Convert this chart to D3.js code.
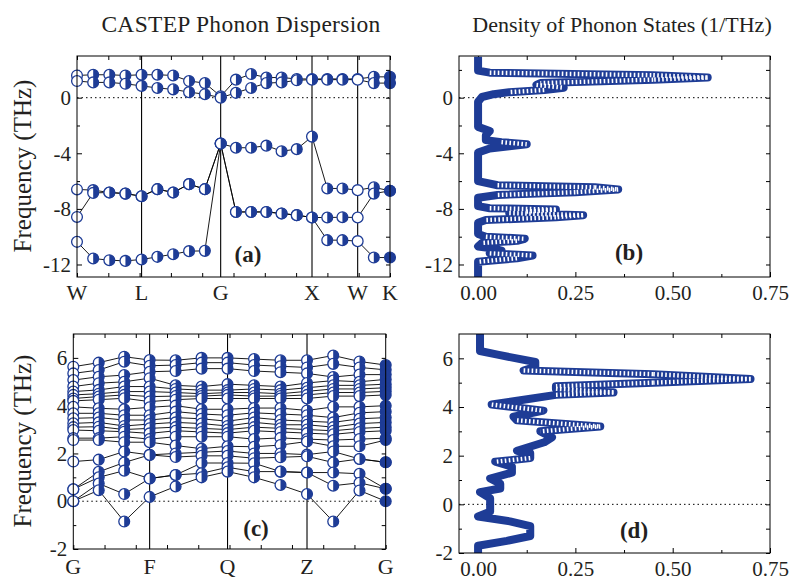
<!DOCTYPE html>
<html>
<head>
<meta charset="utf-8">
<script src="https://cdn.jsdelivr.net/npm/d3@7"></script>
<style>
  body { margin: 0; background: #fff; }
  text { font-family: "Liberation Serif", "Times New Roman", serif; }
</style>
</head>
<body>
<svg id="chart" width="792" height="581"></svg>
<script>
// Phonon dispersion + DOS, two structures

var blue = "#1e3c96";
var ink = "#231f20";

// (a) k-path W-L-G-X-W-K, path length in 2pi/a
var kA = [0, 0.177, 0.354, 0.530, 0.707, 0.880, 1.053, 1.227, 1.400, 1.573,
  1.740, 1.906, 2.073, 2.240, 2.406, 2.573, 2.740, 2.906, 3.073, 3.250, 3.427];
var symA = ["W", "L", "G", "X", "W", "K"];
var symPosA = [0, 0.707, 1.573, 2.573, 3.073, 3.427];
var bandsA = [
  [1.6, 1.65, 1.65, 1.6, 1.65, 1.65, 1.6, 1.2, 1.05, 0.1, 1.3, 1.7, 1.45, 1.45, 1.35, 1.35, 1.35, 1.35, 1.35, 1.5, 1.5],
  [1.2, 1.1, 1.1, 1.0, 0.85, 0.7, 0.6, 0.4, 0.25, 0.0, 0.35, 0.7, 1.05, 1.1, 1.25, 1.3, 1.3, 1.3, 1.3, 1.05, 1.05],
  [-6.6, -6.65, -6.82, -6.9, -7.09, -6.58, -6.82, -6.22, -6.58, -3.3, -3.6, -3.6, -3.45, -3.85, -3.7, -2.8, -6.53, -6.53, -6.65, -6.45, -6.7],
  [-8.58, -6.85, -6.82, -6.9, -7.09, -6.58, -6.82, -6.22, -6.58, -3.3, -8.22, -8.22, -8.22, -8.33, -8.45, -8.62, -8.62, -8.6, -8.62, -6.9, -6.7],
  [-10.37, -11.57, -11.69, -11.74, -11.64, -11.45, -11.26, -11.04, -11.02, -3.3, -8.22, -8.22, -8.22, -8.33, -8.45, -8.62, -10.25, -10.25, -10.32, -11.5, -11.5]
];

// (c) k-path G-F-Q-Z-G
var kC = [0, 0.323, 0.647, 0.97, 1.30, 1.63, 1.96, 2.297, 2.633, 2.97, 3.303, 3.637, 3.97];
var symC = ["G", "F", "Q", "Z", "G"];
var symPosC = [0, 0.97, 1.96, 2.97, 3.97];
var bandsC = [
  [5.63, 5.8, 6.05, 5.91, 5.9, 6.0, 6.0, 5.95, 5.9, 5.9, 6.1, 5.85, 5.7],
  [5.35, 5.49, 5.84, 5.67, 5.7, 5.8, 5.8, 5.7, 5.65, 5.6, 5.75, 5.6, 5.5],
  [5.07, 5.21, 5.28, 5.42, 5.45, 5.55, 5.55, 5.45, 5.4, 5.35, 5.2, 5.3, 5.3],
  [4.8, 4.94, 5.0, 5.15, 4.85, 4.8, 4.9, 4.85, 4.8, 4.95, 5.05, 5.0, 5.1],
  [4.59, 4.66, 4.8, 4.8, 4.7, 4.65, 4.65, 4.7, 4.65, 4.75, 4.85, 4.85, 4.9],
  [4.45, 4.5, 4.59, 4.59, 4.55, 4.5, 4.55, 4.55, 4.5, 4.6, 4.7, 4.7, 4.75],
  [4.3, 4.38, 4.45, 4.38, 4.4, 4.4, 4.45, 4.4, 4.4, 4.45, 4.55, 4.55, 4.6],
  [4.2, 4.25, 4.31, 4.17, 4.25, 4.3, 4.3, 4.3, 4.3, 4.3, 4.4, 4.4, 4.45],
  [3.95, 3.89, 3.85, 3.93, 4.0, 3.85, 3.85, 3.9, 3.9, 3.8, 3.95, 3.95, 4.0],
  [3.68, 3.68, 3.6, 3.6, 3.75, 3.65, 3.6, 3.7, 3.65, 3.6, 3.5, 3.7, 3.75],
  [3.47, 3.5, 3.4, 3.4, 3.5, 3.45, 3.35, 3.5, 3.4, 3.35, 3.3, 3.45, 3.5],
  [3.26, 3.3, 3.15, 3.23, 3.3, 3.25, 3.15, 3.3, 3.2, 3.2, 3.1, 3.25, 3.3],
  [3.1, 3.12, 3.0, 3.05, 3.1, 3.05, 3.0, 3.1, 3.05, 3.0, 2.95, 3.05, 3.1],
  [2.98, 2.95, 2.91, 2.84, 2.95, 2.9, 2.85, 2.95, 2.9, 2.85, 2.8, 2.9, 2.95],
  [2.64, 2.64, 2.7, 2.6, 2.7, 2.7, 2.7, 2.6, 2.65, 2.6, 2.56, 2.6, 2.64],
  [2.56, 2.56, 2.47, 2.47, 2.33, 2.2, 2.3, 2.28, 2.35, 2.5, 2.3, 2.3, 2.56],
  [1.66, 1.74, 2.08, 1.94, 2.0, 2.05, 2.1, 2.0, 2.0, 1.95, 2.08, 1.77, 1.63],
  [0.5, 1.23, 1.62, 1.94, 1.85, 1.9, 1.9, 1.8, 1.84, 1.88, 1.62, 1.77, 1.63],
  [0.5, 1.0, 1.28, 0.95, 1.1, 1.6, 1.6, 1.59, 1.24, 1.2, 1.2, 1.15, 0.52],
  [0.0, 0.74, 0.3, 0.95, 1.1, 1.17, 1.42, 1.24, 1.24, 1.2, 0.65, 0.77, 0.52],
  [0.0, 0.46, -0.85, 0.18, 0.62, 1.0, 1.24, 1.0, 0.68, 0.3, -0.85, 0.45, 0.0]
];

// DOS (b) and (d): [frequency THz, states 1/THz], top to bottom
var dosB = [[2.95, 0.0], [1.95, 0.0], [1.8, 0.03], [1.62, 0.45], [1.45, 0.59], [1.3, 0.45],
  [1.05, 0.16], [0.92, 0.15], [0.72, 0.22], [0.55, 0.17], [0.4, 0.08], [0.25, 0.04],
  [0.05, 0.01], [-0.3, 0.0], [-2.1, 0.0], [-2.4, 0.03], [-2.7, 0.02], [-3.05, 0.02],
  [-3.2, 0.06], [-3.35, 0.125], [-3.5, 0.08], [-3.65, 0.03], [-3.95, 0.0], [-6.0, 0.0],
  [-6.3, 0.05], [-6.45, 0.3], [-6.6, 0.36], [-6.8, 0.25], [-7.0, 0.05], [-7.2, 0.0],
  [-7.8, 0.0], [-7.95, 0.03], [-8.05, 0.2], [-8.2, 0.12], [-8.3, 0.08], [-8.45, 0.27],
  [-8.6, 0.2], [-8.8, 0.02], [-9.0, 0.0], [-9.8, 0.0], [-10.0, 0.02], [-10.15, 0.12],
  [-10.3, 0.1], [-10.45, 0.01], [-10.7, 0.0], [-10.85, 0.04], [-11.0, 0.06], [-11.2, 0.03],
  [-11.35, 0.14], [-11.55, 0.1], [-11.8, 0.0], [-12.9, 0.0]];
var dosD = [[7.0, 0.005], [6.3, 0.005], [6.15, 0.05], [5.85, 0.147], [5.65, 0.147], [5.5, 0.117],
  [5.35, 0.45], [5.15, 0.7], [5.0, 0.45], [4.85, 0.2], [4.75, 0.2], [4.6, 0.348], [4.5, 0.2],
  [4.1, 0.035], [3.85, 0.168], [3.6, 0.091], [3.45, 0.1], [3.2, 0.314], [3.0, 0.16], [2.75, 0.19],
  [2.55, 0.17], [2.2, 0.1], [2.1, 0.134], [1.9, 0.134], [1.75, 0.044], [1.55, 0.087], [1.3, 0.087],
  [1.06, 0.031], [0.85, 0.057], [0.65, 0.057], [0.5, 0.005], [0.25, 0.031], [-0.3, 0.031],
  [-0.5, 0.0], [-0.7, 0.082], [-0.9, 0.134], [-1.3, 0.134], [-1.5, 0.074], [-1.7, 0.0], [-2.0, 0.0]];

var yMajorA = [-12, -8, -4, 0];
var yMinorA = [-10, -6, -2, 2];
var yMajorC = [-2, 0, 2, 4, 6];
var yMinorC = [-1, 1, 3, 5];
var dosMajor = [0, 0.25, 0.5, 0.75];
var dosMinor = [0.125, 0.375, 0.625];

var svg = d3.select("#chart");

var xA = d3.scaleLinear().domain([0, 3.427]).range([77, 390]);
var yA = d3.scaleLinear().domain([-12.9, 3]).range([277, 56]);
var xB = d3.scaleLinear().domain([-0.049, 0.75]).range([459, 770]);
var xC = d3.scaleLinear().domain([0, 3.97]).range([73.3, 385.7]);
var yC = d3.scaleLinear().domain([-2, 7]).range([549, 334]);
var yD = d3.scaleLinear().domain([-2, 7]).range([553, 334]);

function styleAxis(g, size) {
  g.attr("font-family", "Liberation Serif, Times New Roman, serif")
    .attr("font-size", size || 21)
    .attr("fill", ink);
  g.selectAll(".domain").remove();
  g.selectAll("line").attr("stroke", "#000");
  g.selectAll("text").attr("fill", ink);
}

function box(x, y) {
  svg.append("rect")
    .attr("x", x.range()[0])
    .attr("y", y.range()[1])
    .attr("width", x.range()[1] - x.range()[0])
    .attr("height", y.range()[0] - y.range()[1])
    .attr("fill", "none")
    .attr("stroke", "#000")
    .attr("stroke-width", 1);
}

function yAxes(x, y, major, minor) {
  var left = svg.append("g").attr("transform", "translate(" + x.range()[0] + ",0)");
  left.call(d3.axisLeft(y).tickValues(major).tickSize(-5).tickPadding(6)
    .tickFormat(function (d) { return String(d); }));
  styleAxis(left);
  var leftMinor = svg.append("g").attr("transform", "translate(" + x.range()[0] + ",0)");
  leftMinor.call(d3.axisLeft(y).tickValues(minor).tickSize(-3).tickFormat(""));
  styleAxis(leftMinor);
  var right = svg.append("g").attr("transform", "translate(" + x.range()[1] + ",0)");
  right.call(d3.axisRight(y).tickValues(major.concat(minor)).tickSize(-4).tickFormat(""));
  styleAxis(right);
}

function zeroLine(x, y) {
  svg.append("line")
    .attr("x1", x.range()[0]).attr("x2", x.range()[1])
    .attr("y1", y(0)).attr("y2", y(0))
    .attr("stroke", "#000")
    .attr("stroke-width", 1)
    .attr("stroke-dasharray", "1.5,3");
}

// dispersion panel
function dispersion(x, y, k, bands, sym, symPos, openIdx, fullIdx, labelY, yMajor, yMinor) {
  // top/bottom minor ticks, ten divisions of the path
  var total = symPos[symPos.length - 1];
  var tk = d3.range(11).map(function (i) { return total * i / 10; });
  var top = svg.append("g").attr("transform", "translate(0," + y.range()[1] + ")");
  top.call(d3.axisTop(x).tickValues(tk).tickSize(-4).tickFormat(""));
  styleAxis(top);
  var bot = svg.append("g").attr("transform", "translate(0," + y.range()[0] + ")");
  bot.call(d3.axisBottom(x).tickValues(tk).tickSize(-4).tickFormat(""));
  styleAxis(bot);

  // high symmetry lines
  svg.append("g")
    .selectAll("line")
    .data(symPos.slice(1, -1))
    .enter()
    .append("line")
    .attr("x1", function (d) { return x(d); })
    .attr("x2", function (d) { return x(d); })
    .attr("y1", y.range()[1])
    .attr("y2", y.range()[0])
    .attr("stroke", "#000")
    .attr("stroke-width", 1.1);

  // labels under axis
  svg.append("g")
    .selectAll("text")
    .data(sym)
    .enter()
    .append("text")
    .attr("x", function (d, i) { return x(symPos[i]); })
    .attr("y", labelY)
    .attr("text-anchor", "middle")
    .attr("font-size", 22)
    .attr("fill", ink)
    .text(function (d) { return d; });

  zeroLine(x, y);
  yAxes(x, y, yMajor, yMinor);

  // band lines
  var line = d3.line()
    .x(function (d, i) { return x(k[i]); })
    .y(function (d) { return y(d); });
  svg.append("g")
    .selectAll("path")
    .data(bands)
    .enter()
    .append("path")
    .attr("d", line)
    .attr("fill", "none")
    .attr("stroke", "#000")
    .attr("stroke-width", 0.9);

  // half filled circles
  var pts = [];
  bands.forEach(function (b) {
    b.forEach(function (v, i) { pts.push({ i: i, v: v }); });
  });
  var r = 5.4;
  var m = svg.append("g")
    .selectAll("g")
    .data(pts)
    .enter()
    .append("g")
    .attr("transform", function (d) { return "translate(" + x(k[d.i]) + "," + y(d.v) + ")"; });
  m.append("circle")
    .attr("r", r)
    .attr("fill", function (d) { return fullIdx.indexOf(d.i) >= 0 ? blue : "#fff"; })
    .attr("stroke", blue)
    .attr("stroke-width", 1.3);
  m.filter(function (d) { return openIdx.indexOf(d.i) < 0 && fullIdx.indexOf(d.i) < 0; })
    .append("path")
    .attr("d", "M0," + (-r) + "A" + r + "," + r + " 0 0 1 0," + r + "Z")
    .attr("fill", blue);

  box(x, y);
}

// DOS panel drawn as a thick band of boxes
function dos(x, y, data, labelY, yMajor, yMinor) {
  var top = svg.append("g").attr("transform", "translate(0," + y.range()[1] + ")");
  top.call(d3.axisTop(x).tickValues(dosMajor.concat(dosMinor)).tickSize(-4).tickFormat(""));
  styleAxis(top);
  var bot = svg.append("g").attr("transform", "translate(0," + y.range()[0] + ")");
  bot.call(d3.axisBottom(x).tickValues(dosMajor).tickSize(-5).tickPadding(8)
    .tickFormat(d3.format(".2f")));
  styleAxis(bot);
  bot.selectAll("text").attr("dy", null).attr("y", labelY - y.range()[0]);
  var botMinor = svg.append("g").attr("transform", "translate(0," + y.range()[0] + ")");
  botMinor.call(d3.axisBottom(x).tickValues(dosMinor).tickSize(-3).tickFormat(""));
  styleAxis(botMinor);

  zeroLine(x, y);
  yAxes(x, y, yMajor, yMinor);

  var line = d3.line()
    .x(function (d) { return x(d[1]); })
    .y(function (d) { return y(d[0]); });
  svg.append("path")
    .attr("d", line(data))
    .attr("fill", "none")
    .attr("stroke", blue)
    .attr("stroke-width", 8)
    .attr("stroke-linejoin", "round");

  // hollow box look on the flat runs
  var segs = d3.pairs(data).filter(function (p) {
    var dx = Math.abs(x(p[1][1]) - x(p[0][1]));
    var dy = Math.abs(y(p[1][0]) - y(p[0][0]));
    return dx > 7 * dy && dx > 20;
  });
  svg.append("g")
    .selectAll("line")
    .data(segs)
    .enter()
    .append("line")
    .attr("x1", function (p) { return x(p[0][1]); })
    .attr("y1", function (p) { return y(p[0][0]); })
    .attr("x2", function (p) { return x(p[1][1]); })
    .attr("y2", function (p) { return y(p[1][0]); })
    .attr("stroke", "#fff")
    .attr("stroke-width", 4.4)
    .attr("stroke-dasharray", "1.6,2.4");

  box(x, y);
}

dispersion(xA, yA, kA, bandsA, symA, symPosA, [0, 18], [20], 300, yMajorA, yMinorA);
dispersion(xC, yC, kC, bandsC, symC, symPosC, [0], [12], 574, yMajorC, yMinorC);
dos(xB, yA, dosB, 300, yMajorA, yMinorA);
dos(xB, yD, dosD, 576, yMajorC, yMinorC);

// titles
svg.append("text").attr("x", 241).attr("y", 32).attr("text-anchor", "middle")
  .attr("font-size", 23.5).attr("letter-spacing", 0.3).attr("fill", ink)
  .text("CASTEP Phonon Dispersion");
svg.append("text").attr("x", 622).attr("y", 32).attr("text-anchor", "middle")
  .attr("font-size", 22).attr("fill", ink).text("Density of Phonon States (1/THz)");

// y labels
[166, 441].forEach(function (cy) {
  svg.append("text")
    .attr("transform", "translate(31," + cy + ") rotate(-90)")
    .attr("text-anchor", "middle")
    .attr("font-size", 25)
    .attr("fill", ink)
    .text("Frequency (THz)");
});

// panel tags
var tags = [["(a)", 248, 262], ["(b)", 629, 260], ["(c)", 256, 536], ["(d)", 634, 538]];
svg.append("g")
  .selectAll("text")
  .data(tags)
  .enter()
  .append("text")
  .attr("x", function (d) { return d[1]; })
  .attr("y", function (d) { return d[2]; })
  .attr("text-anchor", "middle")
  .attr("font-size", 23)
  .attr("font-weight", "bold")
  .attr("fill", ink)
  .text(function (d) { return d[0]; });
</script>
</body>
</html>
